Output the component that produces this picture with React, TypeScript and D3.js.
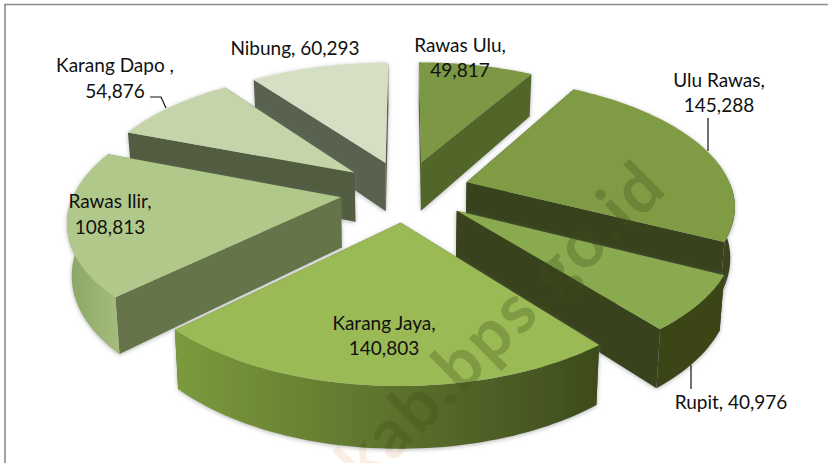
import React from 'react';
import * as d3 from 'd3';

// 3D exploded pie, drawn with a small perspective projection over d3.pie angles
const names = ['Rawas Ulu', 'Ulu Rawas', 'Rupit', 'Karang Jaya', 'Rawas Ilir', 'Karang Dapo', 'Nibung'];
const values = [49817, 145288, 40976, 140803, 108813, 54876, 60293];
const topColors = ['#7d9845', '#7f9c44', '#8aaa50', '#9aba55', '#b0c98a', '#c5d4a9', '#d5dfc4'];
const cutColors = ['#526629', '#39431b', '#39431a', '#4f6228', '#66754a', '#515c41', '#596250'];
const outerColors = [
  ['#55692c', '#55692c'],
  ['#3a431b', '#3a431b'],
  ['#3a4419', '#3a4419'],
  ['#7b9b3d', '#3e4b1d'],
  ['#8aa565', '#a4bd7d'],
  ['#515c41', '#515c41'],
  ['#596250', '#596250'],
];
const drawOrder = [6, 0, 5, 1, 4, 2, 3];

const W = 828;
const H = 463;
const cx = 405;
const cy = 191;
const R = 266;
const explode = 65;
const squash = 0.47;
const camera = 1633;
const thickness = 50;

type P = [number, number];

function project(x: number, y: number, down: number): P {
  const s = camera / (camera - y);
  const lean = 1 - (down / thickness) * 0.014;
  return [cx + x * s * lean, cy + y * squash * s + down * s];
}

const line = d3.line<P>();

function Watermark({ fill, opacity, clip }: { fill: string; opacity: number; clip?: string }) {
  return (
    <g clipPath={clip}>
      <text
        transform="translate(517,340) rotate(-44.5)"
        textAnchor="middle"
        fontFamily="Lato, 'Open Sans', sans-serif"
        fontWeight={700}
        fontSize={68}
        letterSpacing={2.5}
        fill={fill}
        fillOpacity={opacity}
      >
        kab.bps.go.id
      </text>
    </g>
  );
}

export default function App() {
  const arcs = d3.pie<number>().sort(null).value((d) => d)(values);

  const onRim = (a: number, mid: number, r = R): [number, number] => [
    explode * Math.sin(mid) + r * Math.sin(a),
    -explode * Math.cos(mid) - r * Math.cos(a),
  ];

  const slices = drawOrder.map((i) => {
    const { startAngle, endAngle } = arcs[i];
    const mid = (startAngle + endAngle) / 2;
    const apex = onRim(0, mid, 0);
    const angles = d3.range(0, 61).map((t) => startAngle + ((endAngle - startAngle) * t) / 60);
    const rim = angles.map((a) => onRim(a, mid));

    const top = line([project(apex[0], apex[1], 0), ...rim.map((p) => project(p[0], p[1], 0))]) + 'Z';

    const cut = (a: number) => {
      const p = onRim(a, mid);
      return {
        y: p[1],
        d:
          line([
            project(apex[0], apex[1], 0),
            project(p[0], p[1], 0),
            project(p[0], p[1], thickness),
            project(apex[0], apex[1], thickness),
          ]) + 'Z',
      };
    };
    const cuts = [cut(startAngle), cut(endAngle)].sort((a, b) => a.y - b.y);

    // only the part of the rim turned toward the viewer
    const front = angles.filter((a) => Math.cos(a) < 0).map((a) => onRim(a, mid));
    const outer =
      front.length > 1
        ? line([
            ...front.map((p) => project(p[0], p[1], 0)),
            ...front
              .slice()
              .reverse()
              .map((p) => project(p[0], p[1], thickness)),
          ]) + 'Z'
        : null;

    return { i, top, cuts, outer };
  });

  return (
    <svg width={W} height={H} style={{ position: 'absolute', left: 0, top: 0, background: '#fff' }}>
      <defs>
        <filter id="soft" x="-10%" y="-10%" width="120%" height="125%">
          <feDropShadow dx="0" dy="1" stdDeviation="2.2" floodColor="#777" floodOpacity="0.55" />
        </filter>
        {outerColors.map((c, i) => (
          <linearGradient key={i} id={`outer-${i}`} x1="0" x2="1" y1="0" y2="0">
            <stop offset="0%" stopColor={c[0]} />
            <stop offset="100%" stopColor={c[1]} />
          </linearGradient>
        ))}
        {/* the watermark darkens the pie, and is only a pale tint on the white page */}
        <clipPath id="pie-area">
          {slices.map((s) => (
            <React.Fragment key={s.i}>
              {s.cuts.map((c, j) => (
                <path key={j} d={c.d} />
              ))}
              {s.outer && <path d={s.outer} />}
              <path d={s.top} />
            </React.Fragment>
          ))}
        </clipPath>
      </defs>

      <path d={`M5,${H}V4.5H${W}`} fill="none" stroke="#8c8c8c" strokeWidth={1.6} />

      <Watermark fill="#e8a86c" opacity={0.2} />

      {slices.map((s) => (
        <g key={s.i} filter="url(#soft)">
          {s.cuts.map((c, j) => (
            <path key={j} d={c.d} fill={cutColors[s.i]} />
          ))}
          {s.outer && <path d={s.outer} fill={`url(#outer-${s.i})`} />}
          <path d={s.top} fill={topColors[s.i]} />
        </g>
      ))}

      <Watermark fill="#3f4f18" opacity={0.3} clip="url(#pie-area)" />

      <g fill="none" stroke="#111" strokeWidth={1.2}>
        <path d="M150,97H161L166,108" />
        <path d="M708,118V151" />
        <path d="M691,365V389" />
      </g>

      <g fontFamily="Lato, 'Open Sans', sans-serif" fontSize={19} fill="#111" textAnchor="middle">
        <text x={295} y={55}>{`${names[6]}, 60,293`}</text>
        <text x={115} y={72}>{`${names[5]} ,`}</text>
        <text x={115} y={98}>54,876</text>
        <text x={460} y={52}>{`${names[0]},`}</text>
        <text x={460} y={77}>49,817</text>
        <text x={719} y={87}>{`${names[1]},`}</text>
        <text x={719} y={112}>145,288</text>
        <text x={110} y={208}>{`${names[4]},`}</text>
        <text x={110} y={234}>108,813</text>
        <text x={384} y={330}>{`${names[3]},`}</text>
        <text x={384} y={355}>140,803</text>
        <text x={731} y={409}>{`${names[2]}, 40,976`}</text>
      </g>
    </svg>
  );
}
